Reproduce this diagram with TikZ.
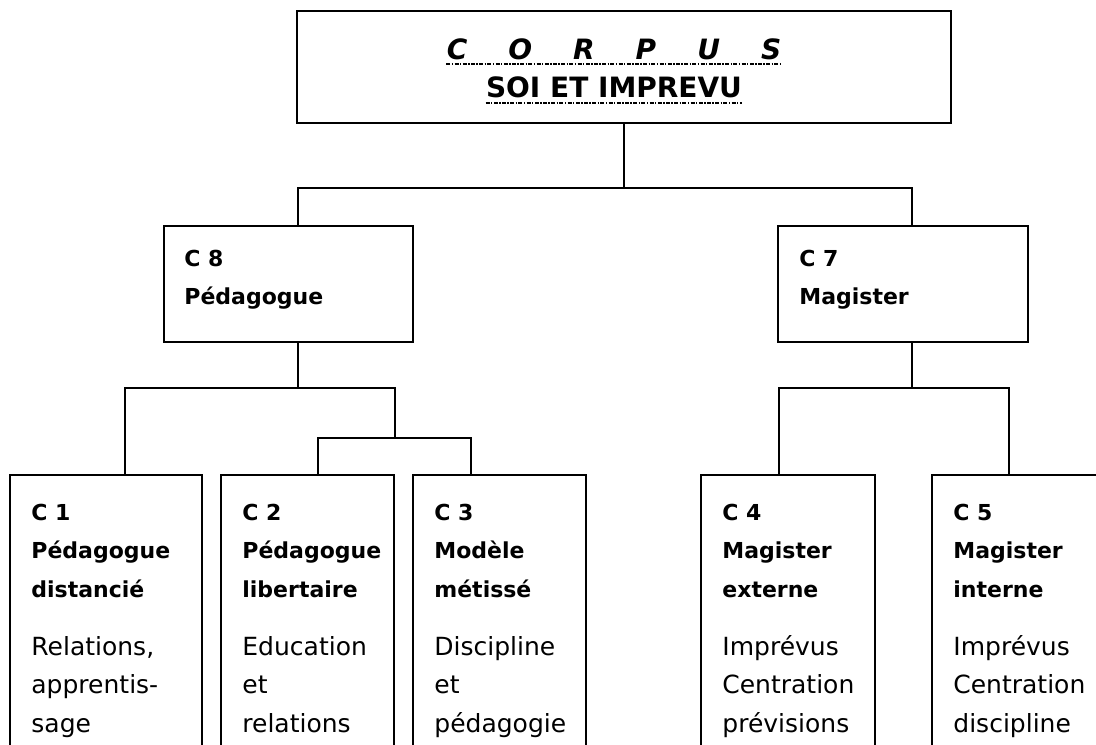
\documentclass[tikz,border=0pt]{standalone}
\usepackage{fontspec}
\setmainfont{DejaVu Sans}
\usetikzlibrary{positioning}

\begin{document}
\begin{tikzpicture}[
  x=0.5pt, y=-0.5pt,
  every node/.style={font=\fontsize{11}{19}\selectfont},
  box/.style={rectangle, draw, line width=1pt, anchor=north west, inner sep=0pt,
              outer sep=0pt},
  head/.style={anchor=north west, inner sep=0pt, align=left,
               font=\fontsize{11}{19.2}\selectfont\bfseries},
  body/.style={anchor=north west, inner sep=0pt, align=left,
               font=\fontsize{12.5}{19.2}\selectfont},
  title/.style={anchor=base, inner sep=0pt, font=\fontsize{14}{16}\selectfont\bfseries},
  link/.style={line width=0.9pt},
  underdash/.style={line width=1.1pt, dash pattern=on 2pt off 0.7pt on 0.7pt off 0.7pt}
]
  \useasboundingbox (0,0) rectangle (1096,744);
  \clip (0,0) rectangle (1096,744);

  % top box
  \node[box, minimum width=327pt, minimum height=56pt] (T) at (297,11) {};
  \node[title] (corpus) at (614,59) {\itshape C\hspace{20.5pt}O\hspace{20.5pt}R\hspace{20.5pt}P\hspace{20.5pt}U\hspace{20.5pt}S};
  \node[title] (soi) at (614,97) {SOI ET IMPREVU};
  \draw[underdash] ([yshift=-2.5pt]corpus.base west) -- ([yshift=-2.5pt]corpus.base east);
  \draw[underdash] ([yshift=-3pt]soi.base west) -- ([yshift=-3pt]soi.base east);

  % second level
  \node[box, minimum width=124.5pt, minimum height=58pt] (P) at (164,226) {};
  \node[box, minimum width=125pt, minimum height=58pt] (M) at (778,226) {};
  \node[head, below right=10pt and 10pt of P.north west] (Pt)
    {\rule{0pt}{10pt}C 8\\Pédagogue};
  \node[head, below right=10pt and 10.5pt of M.north west] (Mt)
    {\rule{0pt}{10pt}C 7\\Magister};

  % third level
  \node[box, minimum width=96pt, minimum height=145pt] (C1) at (10,475) {};
  \node[box, minimum width=86.5pt, minimum height=145pt] (C2) at (221,475) {};
  \node[box, minimum width=86.5pt, minimum height=145pt] (C3) at (413,475) {};
  \node[box, minimum width=87pt, minimum height=145pt] (C4) at (701,475) {};
  \node[box, minimum width=84pt, minimum height=145pt] (C5) at (932,475) {};

  \node[head, below right=12.5pt and 10.5pt of C1.north west] (C1h)
    {\rule{0pt}{10pt}C 1\\Pédagogue\\distancié};
  \node[body, below right=80pt and 10.5pt of C1.north west] (C1b)
    {\rule{0pt}{10pt}Relations,\\apprentis-\\sage};
  \node[head, below right=12.5pt and 10.5pt of C2.north west] (C2h)
    {\rule{0pt}{10pt}C 2\\Pédagogue\\libertaire};
  \node[body, below right=80pt and 10.5pt of C2.north west] (C2b)
    {\rule{0pt}{10pt}Education\\et\\relations};
  \node[head, below right=12.5pt and 10.5pt of C3.north west] (C3h)
    {\rule{0pt}{10pt}C 3\\Modèle\\métissé};
  \node[body, below right=80pt and 10.5pt of C3.north west] (C3b)
    {\rule{0pt}{10pt}Discipline\\et\\pédagogie};
  \node[head, below right=12.5pt and 10.5pt of C4.north west] (C4h)
    {\rule{0pt}{10pt}C 4\\Magister\\externe};
  \node[body, below right=80pt and 10.5pt of C4.north west] (C4b)
    {\rule{0pt}{10pt}Imprévus\\Centration\\prévisions};
  \node[head, below right=12.5pt and 10.5pt of C5.north west] (C5h)
    {\rule{0pt}{10pt}C 5\\Magister\\interne};
  \node[body, below right=80pt and 10.5pt of C5.north west] (C5b)
    {\rule{0pt}{10pt}Imprévus\\Centration\\discipline};

  % junction points
  \coordinate (tj) at (624,188);
  \coordinate (pj) at (298,188);
  \coordinate (mj) at (912,188);
  \coordinate (pl) at (298,388);
  \coordinate (l1) at (125,388);
  \coordinate (l2) at (395,388);
  \coordinate (l3) at (395,438);
  \coordinate (l4) at (318,438);
  \coordinate (l5) at (471,438);
  \coordinate (ml) at (912,388);
  \coordinate (r1) at (779,388);
  \coordinate (r2) at (1009,388);

  \draw[link] (T.south) -- (tj);
  \draw[link] (P.north -| pj) -- (pj) -- (mj) -- (M.north -| mj);
  \draw[link] (P.south -| pl) -- (pl);
  \draw[link] (C1.north -| l1) -- (l1) -- (l2) -- (l3);
  \draw[link] (C2.north -| l4) -- (l4) -- (l5) -- (C3.north -| l5);
  \draw[link] (M.south -| ml) -- (ml);
  \draw[link] (C4.north -| r1) -- (r1) -- (r2) -- (C5.north -| r2);
\end{tikzpicture}
\end{document}
